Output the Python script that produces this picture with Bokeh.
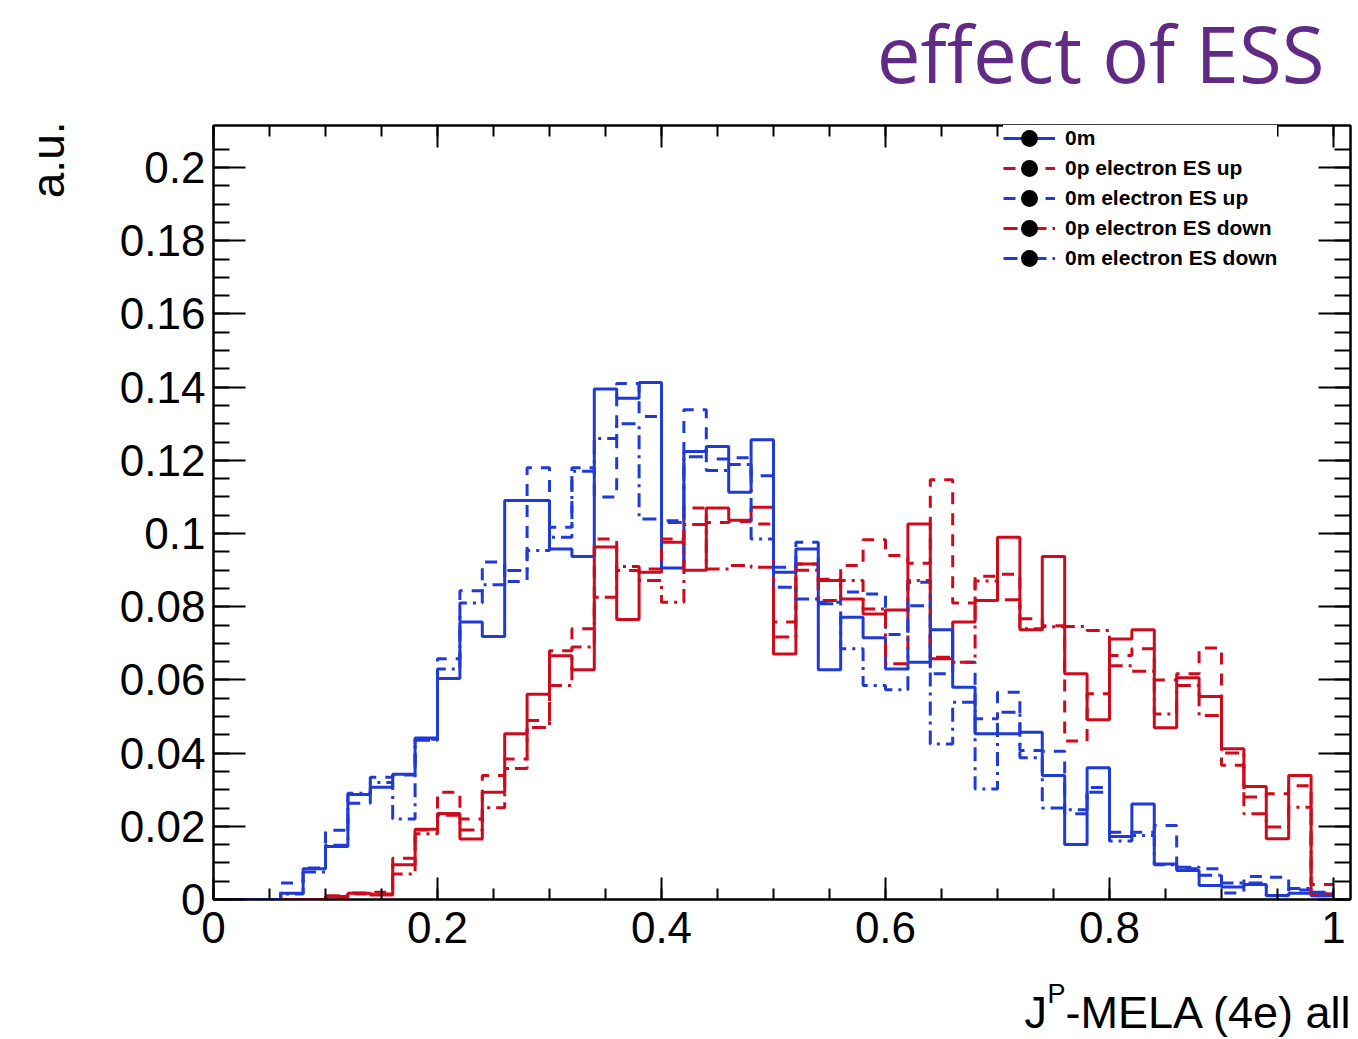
import numpy as np
from bokeh.plotting import figure
from bokeh.layouts import column, row
from bokeh.models import (Range1d, LinearAxis, FixedTicker, NumeralTickFormatter,
                          CustomJSTickFormatter, Legend, LegendItem, Label, Title)
from bokeh.embed import file_html
from bokeh.resources import INLINE

# 50 bins of width 0.02 on [0, 1]
N_BINS = 50
X_TICKS = [0.0, 0.2, 0.4, 0.6, 0.8, 1.0]
Y_TICKS = [0.0, 0.02, 0.04, 0.06, 0.08, 0.10, 0.12, 0.14, 0.16, 0.18, 0.20]

# normalised bin contents (a.u.)
p0 = [0, 0, 0, 0, 0, 0.0008, 0.0017, 0.0012, 0.0095, 0.0192,
      0.0235, 0.0165, 0.0293, 0.0453, 0.0561, 0.0666, 0.0628, 0.0963, 0.0765, 0.0894,
      0.0976, 0.0900, 0.1070, 0.1036, 0.1072, 0.0671, 0.0917, 0.0872, 0.0821, 0.0780,
      0.0791, 0.1026, 0.0658, 0.0758, 0.0817, 0.0990, 0.0737, 0.0937, 0.0617, 0.0491,
      0.0712, 0.0737, 0.0469, 0.0606, 0.0555, 0.0412, 0.0309, 0.0166, 0.0339, 0.0015]

m0 = [0, 0, 0, 0.0017, 0.0084, 0.0145, 0.0287, 0.0307, 0.0342, 0.0441,
      0.0604, 0.0758, 0.0719, 0.1090, 0.1090, 0.0958, 0.0937, 0.1395, 0.1370, 0.1413,
      0.0906, 0.1224, 0.1238, 0.1113, 0.1256, 0.0894, 0.0958, 0.0628, 0.0771, 0.0715,
      0.0630, 0.0648, 0.0737, 0.0580, 0.0453, 0.0453, 0.0457, 0.0339, 0.0150, 0.0360,
      0.0172, 0.0261, 0.0097, 0.0079, 0.0038, 0.0034, 0.0041, 0.0011, 0.0017, 0.0010]

p_es_up = [0, 0, 0, 0, 0, 0.0005, 0.0015, 0.0020, 0.0113, 0.0190,
           0.0293, 0.0220, 0.0339, 0.0384, 0.0489, 0.0680, 0.0740, 0.0985, 0.0899, 0.0903,
           0.0985, 0.1070, 0.1030, 0.1033, 0.1026, 0.0758, 0.0917, 0.0875, 0.0913, 0.0983,
           0.0940, 0.0919, 0.1147, 0.0810, 0.0883, 0.0889, 0.0767, 0.0748, 0.0433, 0.0562,
           0.0667, 0.0685, 0.0600, 0.0617, 0.0687, 0.0367, 0.0280, 0.0289, 0.0311, 0.0041]

m_es_up = [0, 0, 0, 0.0045, 0.0086, 0.0189, 0.0263, 0.0334, 0.0340, 0.0438,
           0.0658, 0.0844, 0.0922, 0.0869, 0.1180, 0.1017, 0.1180, 0.1100, 0.1410, 0.1320,
           0.1035, 0.1338, 0.1204, 0.1207, 0.1158, 0.0908, 0.0976, 0.0812, 0.0840, 0.0835,
           0.0724, 0.0867, 0.0617, 0.0648, 0.0494, 0.0566, 0.0407, 0.0405, 0.0234, 0.0306,
           0.0184, 0.0184, 0.0202, 0.0084, 0.0084, 0.0018, 0.0063, 0.0061, 0.0026, 0.0010]

p_es_down = [0, 0, 0, 0, 0, 0.0010, 0.0018, 0.0015, 0.0070, 0.0180,
             0.0230, 0.0190, 0.0251, 0.0358, 0.0470, 0.0585, 0.0690, 0.0826, 0.0910, 0.0872,
             0.0812, 0.1025, 0.0903, 0.0913, 0.0908, 0.0717, 0.0900, 0.0817, 0.0872, 0.0794,
             0.0644, 0.0872, 0.0662, 0.0648, 0.0870, 0.0819, 0.0740, 0.0745, 0.0746, 0.0735,
             0.0639, 0.0624, 0.0507, 0.0585, 0.0503, 0.0400, 0.0234, 0.0198, 0.0252, 0.0015]

m_es_down = [0, 0, 0, 0.0015, 0.0075, 0.0148, 0.0290, 0.0320, 0.0220, 0.0435,
             0.0630, 0.0810, 0.0860, 0.0899, 0.0954, 0.0990, 0.1170, 0.1260, 0.1300, 0.1040,
             0.1030, 0.1210, 0.1172, 0.1189, 0.0985, 0.0853, 0.0821, 0.0808, 0.0685, 0.0585,
             0.0573, 0.0803, 0.0425, 0.0539, 0.0302, 0.0512, 0.0387, 0.0250, 0.0245, 0.0293,
             0.0160, 0.0175, 0.0095, 0.0088, 0.0066, 0.0045, 0.0045, 0.0010, 0.0030, 0.0020]

RED = "#cf0a1d"
BLUE = "#1f3ad6"
PURPLE = "#612a85"
DASHED = "12 9"
DASHDOT = "14 6 3 6"
FONT = "Liberation Sans"

W, H = 1358, 1039
HEAD_H, FOOT_H, SIDE_W = 110, 70, 110
MID_H = H - HEAD_H - FOOT_H

edges = np.linspace(0.0, 1.0, N_BINS + 1)


def text_strip(width, height, **borders):
    """Blank drawing area used only to hold free-standing text."""
    opts = dict(min_border=0)
    opts.update(borders)
    f = figure(width=width, height=height, x_range=Range1d(0, 1), y_range=Range1d(0, 1),
               x_axis_type=None, y_axis_type=None, output_backend="svg",
               toolbar_location=None, outline_line_color=None,
               background_fill_color="white", border_fill_color="white", **opts)
    f.grid.visible = False
    return f


# ---- main histogram panel -------------------------------------------------
p = figure(width=W - SIDE_W, height=MID_H, title=None,
           x_range=Range1d(0.0, 1.0152), y_range=Range1d(0.0, 0.2115),
           output_backend="svg", toolbar_location=None,
           min_border_left=213 - SIDE_W, min_border_right=8,
           min_border_top=15, min_border_bottom=70,
           background_fill_color="white", border_fill_color="white")
p.grid.visible = False
p.outline_line_color = "black"
p.outline_line_width = 2


def hist(vals, color, dash):
    y = list(vals) + [vals[-1]]
    return p.step(x=edges, y=y, mode="after", line_color=color,
                  line_width=3, line_dash=dash)


r_p0 = hist(p0, RED, "solid")
r_m0 = hist(m0, BLUE, "solid")
r_pu = hist(p_es_up, RED, DASHED)
r_mu = hist(m_es_up, BLUE, DASHED)
r_pd = hist(p_es_down, RED, DASHDOT)
r_md = hist(m_es_down, BLUE, DASHDOT)

# black marker shown only inside the legend entries
dot = p.scatter(x=[float("nan")], y=[float("nan")], marker="circle",
                fill_color="black", line_color="black", line_width=5)


def style_axis(ax, tick_in, minor_in, show_labels):
    ax.major_tick_in = tick_in
    ax.major_tick_out = 0
    ax.minor_tick_in = minor_in
    ax.minor_tick_out = 0
    ax.major_tick_line_width = 2
    ax.minor_tick_line_width = 2
    ax.major_tick_line_color = "black"
    ax.minor_tick_line_color = "black"
    ax.axis_line_width = 2
    ax.axis_line_color = "black"
    if show_labels:
        ax.major_label_text_font = FONT
        ax.major_label_text_font_size = "44px"
        ax.major_label_text_color = "black"
        ax.formatter = NumeralTickFormatter(format="0.[00]")
    else:
        ax.formatter = CustomJSTickFormatter(code="return ''")
        ax.major_label_text_color = None
        ax.major_label_standoff = 0


x_minor = list(np.round(np.arange(0.0, 1.0001, 0.05), 4))
y_minor = list(np.round(np.arange(0.0, 0.21, 0.005), 4))

xa = p.xaxis[0]
xa.ticker = FixedTicker(ticks=X_TICKS, minor_ticks=x_minor)
style_axis(xa, 22, 11, True)
xa.major_label_standoff = 12

ya = p.yaxis[0]
ya.ticker = FixedTicker(ticks=Y_TICKS, minor_ticks=y_minor)
style_axis(ya, 32, 16, True)
ya.major_label_standoff = 8

top = LinearAxis(ticker=FixedTicker(ticks=X_TICKS, minor_ticks=x_minor))
style_axis(top, 22, 11, False)
p.add_layout(top, "above")

right = LinearAxis(ticker=FixedTicker(ticks=Y_TICKS, minor_ticks=y_minor))
style_axis(right, 32, 16, False)
p.add_layout(right, "right")

legend = Legend(
    items=[
        LegendItem(label="0m", renderers=[r_m0, dot]),
        LegendItem(label="0p electron ES up", renderers=[r_pu, dot]),
        LegendItem(label="0m electron ES up", renderers=[r_mu, dot]),
        LegendItem(label="0p electron ES down", renderers=[r_pd, dot]),
        LegendItem(label="0m electron ES down", renderers=[r_md, dot]),
    ],
    location=(790, 626),
    glyph_width=52, glyph_height=30, label_height=30,
    label_standoff=10, spacing=0, padding=10, margin=0,
    label_text_font=FONT, label_text_font_style="bold",
    label_text_font_size="21px", label_text_color="black",
    background_fill_color="white", background_fill_alpha=1.0,
    border_line_color=None,
)
p.add_layout(legend)

# ---- headline ---------------------------------------------------------------
head = text_strip(W, HEAD_H)
head.add_layout(Label(x=1324, y=58, x_units="screen", y_units="screen",
                      text="effect of ESS", text_align="right",
                      text_baseline="middle", text_font="Open Sans",
                      text_font_size="78px", text_color=PURPLE))

# ---- y-axis title, at the top end of the axis -----------------------------
side = text_strip(SIDE_W, MID_H, min_border_left=90)
side.add_layout(Title(text="a.u.", align="right", offset=-4, standoff=33,
                      text_font=FONT, text_font_size="46px",
                      text_font_style="normal", text_color="black"), "left")

# ---- x-axis title with superscript, at the right end of the axis ----------
foot = text_strip(W, FOOT_H)
foot.add_layout(Label(x=1024, y=27, x_units="screen", y_units="screen",
                      text="J", text_align="left", text_baseline="middle",
                      text_font=FONT, text_font_size="45px", text_color="black"))
foot.add_layout(Label(x=1047, y=46, x_units="screen", y_units="screen",
                      text="P", text_align="left", text_baseline="middle",
                      text_font=FONT, text_font_size="27px", text_color="black"))
foot.add_layout(Label(x=1065, y=27, x_units="screen", y_units="screen",
                      text="-MELA (4e) all", text_align="left",
                      text_baseline="middle", text_font=FONT,
                      text_font_size="45px", text_color="black"))

page = column(head, row(side, p, spacing=0), foot, spacing=0)

open("out.html", "w").write(file_html(page, INLINE))
